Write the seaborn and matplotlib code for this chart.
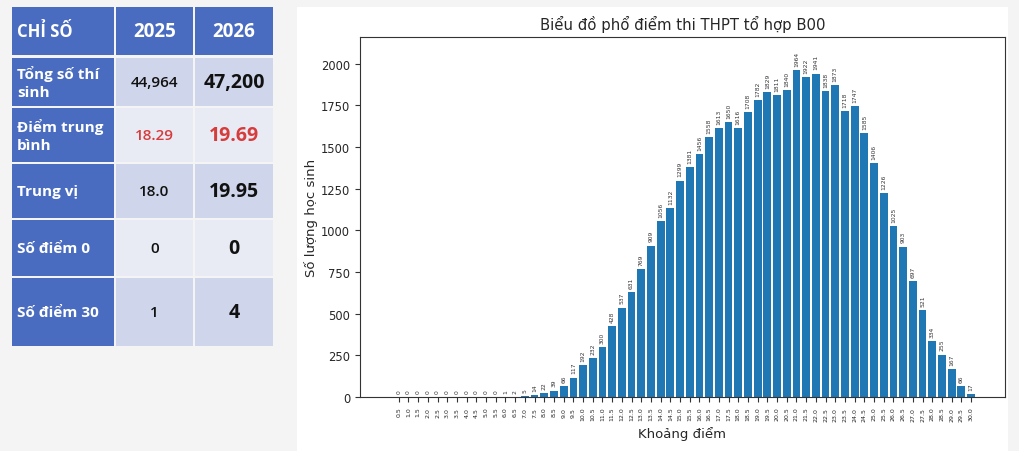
import numpy as np
import pandas as pd
import seaborn as sns
from matplotlib import pyplot as plt
from matplotlib.patches import Rectangle

# score bins and counts (B00)
score_bins = [f"{v / 2:.1f}" for v in range(1, 61)]
counts = [0, 0, 0, 0, 0, 0, 0, 0, 0, 0, 0,
          1, 2, 5, 14, 22, 39, 66, 117, 192, 232,
          300, 428, 537, 631, 769, 909, 1056, 1132, 1299, 1381,
          1456, 1558, 1613, 1650, 1616, 1708, 1782, 1829, 1811, 1840,
          1964, 1922, 1941, 1838, 1873, 1718, 1747, 1585, 1406, 1226,
          1025, 903, 697, 521, 334, 255, 167, 66, 17]

# summary table
table_header = ["CHỈ SỐ", "2025", "2026"]
row_names = ["Tổng số thí\nsinh", "Điểm trung\nbình", "Trung vị", "Số điểm 0", "Số điểm 30"]
vals_2025 = ["44,964", "18.29", "18.0", "0", "1"]
vals_2026 = ["47,200", "19.69", "19.95", "0", "4"]

sns.set_theme(style="white")
plt.rcParams['font.family'] = ['DejaVu Sans']

W, H = 1020, 452
fig = plt.figure(figsize=(W / 100, H / 100), dpi=100)
fig.patch.set_facecolor('#f4f4f4')

# background axes in pixel coordinates
bg = fig.add_axes([0, 0, 1, 1])
bg.set_xlim(0, W)
bg.set_ylim(H, 0)
bg.axis('off')
bg.add_patch(Rectangle((297, 8), 711, 450, facecolor='white', edgecolor='none'))

blue = '#4a6cc0'
light1 = '#cfd5ea'
light2 = '#e8eaf4'
col_x = [(12, 114), (116, 193), (195, 273)]
row_y = [(8, 56), (59, 107), (109, 163), (165, 219), (221, 277), (279, 347)]
tfont = 'Open Sans'

for (x0, x1), txt in zip(col_x, table_header):
    y0, y1 = row_y[0]
    bg.add_patch(Rectangle((x0, y0), x1 - x0, y1 - y0, facecolor=blue, edgecolor='none'))
    if txt == "CHỈ SỐ":
        bg.text(x0 + 5, (y0 + y1) / 2, txt, color='white', fontsize=12, fontweight='bold',
                family=tfont, ha='left', va='center')
    else:
        bg.text((x0 + x1) / 2, (y0 + y1) / 2, txt, color='white', fontsize=13.5, fontweight='bold',
                family=tfont, ha='center', va='center')

for i, (name, v1, v2) in enumerate(zip(row_names, vals_2025, vals_2026)):
    y0, y1 = row_y[i + 1]
    yc = (y0 + y1) / 2
    fill = light1 if i % 2 == 0 else light2
    bg.add_patch(Rectangle((col_x[0][0], y0), col_x[0][1] - col_x[0][0], y1 - y0,
                           facecolor=blue, edgecolor='none'))
    bg.add_patch(Rectangle((col_x[1][0], y0), col_x[1][1] - col_x[1][0], y1 - y0,
                           facecolor=fill, edgecolor='none'))
    bg.add_patch(Rectangle((col_x[2][0], y0), col_x[2][1] - col_x[2][0], y1 - y0,
                           facecolor=fill, edgecolor='none'))
    bg.text(col_x[0][0] + 5, yc, name, color='white', fontsize=11, fontweight='bold',
            family=tfont, ha='left', va='center', linespacing=1.3)
    vcol = '#d63c3c' if i == 1 else '#111111'
    bg.text((col_x[1][0] + col_x[1][1]) / 2, yc, v1, color=vcol, fontsize=11, fontweight='semibold',
            family=tfont, ha='center', va='center')
    bg.text((col_x[2][0] + col_x[2][1]) / 2, yc, v2, color=vcol, fontsize=14, fontweight='bold',
            family=tfont, ha='center', va='center')

# bar chart
df = pd.DataFrame({'bin': score_bins, 'count': counts})
ax = fig.add_axes([360 / W, (H - 398) / H, (1005 - 360) / W, (398 - 38) / H])
sns.barplot(data=df, x='bin', y='count', order=score_bins, color='#1f77b4',
            saturation=1, width=0.8, linewidth=0, ax=ax)
for c in ax.containers:
    ax.bar_label(c, labels=[str(v) for v in counts], rotation=90, fontsize=4.3,
                 padding=3, color='#333333')

ax.set_xlim(-4, 62.5)
ax.set_ylim(0, max(counts) * 1.1)
ax.set_yticks([0, 250, 500, 750, 1000, 1250, 1500, 1750, 2000])
ax.tick_params(axis='y', labelsize=8.3, left=True, length=3.5, width=0.8, color='#333333')
ax.tick_params(axis='x', labelsize=4.5, rotation=90, bottom=True, length=3.5, width=0.8,
               color='#333333')
for s in ax.spines.values():
    s.set_color('#333333')
    s.set_linewidth(0.8)
ax.set_title("Biểu đồ phổ điểm thi THPT tổ hợp B00", fontsize=10.7, pad=6)
ax.set_xlabel("Khoảng điểm", fontsize=9.5, labelpad=4)
ax.set_ylabel("Số lượng học sinh", fontsize=9.5, labelpad=2)

fig.savefig('out.png', dpi=100, facecolor=fig.get_facecolor())
